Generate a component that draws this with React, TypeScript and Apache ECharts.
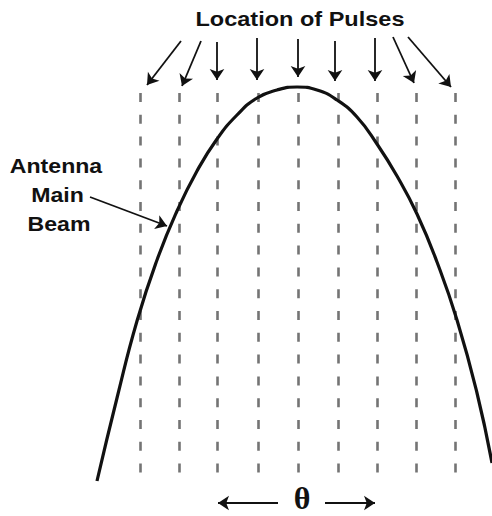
import React, { useEffect, useRef } from "react";
import * as echarts from "echarts";

// Pulse (dashed line) positions along the beam
const pulseX = [140, 179, 217.5, 258, 298, 338, 377, 416.5, 455.5];
const pulseTop = 93;
const pulseBottom = 475;

// Antenna main beam curve (evenly spaced samples)
const beamX = [97, 117, 137, 157, 177, 197, 217, 237, 257, 277, 297, 317, 337, 357, 377, 397, 417, 437, 457, 477, 492];
const beamY = [481, 398, 321, 260, 211, 171, 139, 115, 98, 90, 87, 90, 100, 117, 144, 176, 214, 262, 320, 393, 463];

// Arrows from "Location of Pulses" to the pulses
const pulseArrowStartX = [181, 201, 217, 257, 298, 335, 375, 393, 408];
const pulseArrowStartY = [41, 41, 42, 38, 39, 41, 38, 37, 37];
const pulseArrowEndX = [147, 182, 217, 257, 298, 335, 375, 414, 451];
const pulseArrowEndY = [85, 86, 80, 80, 77, 81, 81, 83, 87];

// Arrow from label to beam
const beamArrowStart = [90, 197];
const beamArrowEnd = [167, 226];

// Theta arrows
const thetaArrowStarts = [[278, 503], [325, 503]];
const thetaArrowEnds = [[218, 503], [375, 503]];

export default function App() {
  const ref = useRef<HTMLDivElement>(null);
  useEffect(() => {
    document.body.style.margin = "0";
    const chart = echarts.init(ref.current!, undefined, { renderer: "svg" });
    const pulseLines = pulseX.map((x) => ({ coords: [[x, pulseTop], [x, pulseBottom]] }));
    const arrows = pulseArrowStartX.map((x, i) => ({
      coords: [[x, pulseArrowStartY[i]], [pulseArrowEndX[i], pulseArrowEndY[i]]],
    }));
    arrows.push({ coords: [beamArrowStart, beamArrowEnd] });
    thetaArrowStarts.forEach((s, i) => arrows.push({ coords: [s, thetaArrowEnds[i]] }));
    const font = '"Liberation Sans", Arial, Helvetica, sans-serif';
    const txt = (text: string, x: number, y: number, size: number, sx: number, family = font, weight = "bold") => ({
      type: "text",
      x,
      y,
      scaleX: sx,
      silent: true,
      style: {
        text,
        fill: "#111",
        fontSize: size,
        fontWeight: weight,
        fontFamily: family,
        textAlign: "center",
        align: "center",
        textVerticalAlign: "middle",
        verticalAlign: "middle",
      },
    });
    chart.setOption({
      animation: false,
      backgroundColor: "#ffffff",
      grid: { left: 0, right: 0, top: 0, bottom: 0 },
      xAxis: { type: "value", min: 0, max: 492, show: false },
      yAxis: { type: "value", min: 0, max: 516, inverse: true, show: false },
      series: [
        {
          type: "lines",
          coordinateSystem: "cartesian2d",
          silent: true,
          symbol: ["none", "none"],
          lineStyle: { color: "#747474", width: 2.6, type: [9, 12.8], opacity: 1 },
          data: pulseLines,
        },
        {
          type: "line",
          data: beamX.map((x, i) => [x, beamY[i]]),
          smooth: 0.5,
          showSymbol: false,
          clip: false,
          lineStyle: { color: "#111", width: 3.2 },
          silent: true,
        },
        {
          type: "lines",
          coordinateSystem: "cartesian2d",
          silent: true,
          symbol: ["none", "arrow"],
          symbolSize: [9, 11],
          lineStyle: { color: "#111", width: 1.8, opacity: 1 },
          itemStyle: { color: "#111" },
          data: arrows,
        },
      ],
      graphic: [
        txt("Location of Pulses", 300, 18.5, 21, 1.12),
        txt("Antenna", 56, 166, 21, 1.1),
        txt("Main", 57.5, 195, 21, 1.1),
        txt("Beam", 59, 224, 21, 1.1),
        txt("θ", 302, 498, 32, 1.0, '"Liberation Serif", "Times New Roman", serif', "bold"),
      ],
    });
    return () => chart.dispose();
  }, []);
  return <div ref={ref} style={{ width: 492, height: 516 }} />;
}
